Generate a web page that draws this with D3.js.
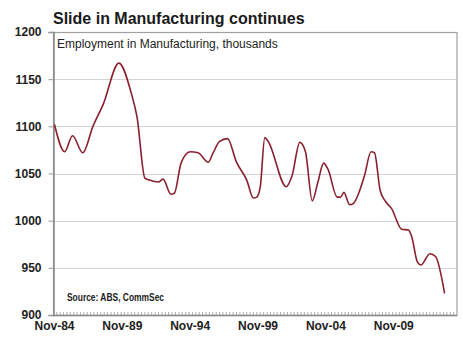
<!DOCTYPE html>
<html><head><meta charset="utf-8">
<script src="https://cdn.jsdelivr.net/npm/d3@7/dist/d3.min.js"></script>
<style>body{margin:0;background:#fff}svg{display:block}text{font-family:"Liberation Sans",Arial,sans-serif}</style>
</head><body>
<svg id="c" width="463" height="345"></svg>
<script>
// Data (employment in manufacturing, thousands)
const dates = ["1984-11","1985-08","1986-03","1986-12","1987-09","1988-06","1989-08","1990-07","1990-12",
"1991-07","1991-11","1992-07","1992-11","1993-06","1993-09","1994-03","1994-11","1995-06","1996-03",
"1996-07","1997-01","1997-08","1998-04","1999-01","1999-07","1999-10","2000-01","2000-05","2000-08",
"2001-12","2002-05","2002-12","2003-05","2003-11","2004-04","2004-09","2005-01","2005-09","2005-12",
"2006-03","2006-08","2006-11","2007-09","2008-03","2008-06","2008-11","2009-04","2009-09","2010-06",
"2010-12","2011-03","2011-08","2011-11","2012-07","2012-12","2013-08"];
const values = [1102,1073,1090,1072,1100,1123,1167,1135,1110,
1045,1043,1041,1044,1028,1029,1061,1073,1072,1062,
1071,1084,1087,1062,1043,1024,1025,1036,1088,1084,
1036,1047,1083,1073,1021,1041,1061,1054,1025,1025,
1030,1017,1018,1047,1073,1072,1032,1020,1013,991,
990,983,956,953,965,962,923];
const yTicks = [900,950,1000,1050,1100,1150,1200];
const xTickLabels = ["Nov-84","Nov-89","Nov-94","Nov-99","Nov-04","Nov-09"];
const title = "Slide in Manufacturing continues";
const subtitle = "Employment in Manufacturing, thousands";
const source = "Source: ABS, CommSec";

const parse = d3.timeParse("%Y-%m");
const fmtTick = d3.timeParse("%b-%y");
const data = dates.map((d,i)=>({date:parse(d), v:values[i]}));

const L=54.5, R=457, T=32, B=315;
const x = d3.scaleTime().domain([parse("1984-11"), parse("2014-07")]).range([L,R]);
const y = d3.scaleLinear().domain([900,1200]).range([B,T]);
const svg = d3.select("#c");

// frame
svg.append("rect").attr("x",53.5).attr("y",T+0.5).attr("width",R-53.5).attr("height",B-T)
  .attr("fill","none").attr("stroke","#a0a0a0").attr("stroke-width",1.2);

// gridlines
svg.append("g").selectAll("line").data(yTicks.filter(t=>t>900&&t<1200)).join("line")
  .attr("x1",54).attr("x2",R).attr("y1",d=>Math.round(y(d))+0.5).attr("y2",d=>Math.round(y(d))+0.5)
  .attr("stroke","#d4d4d4").attr("stroke-width",1.2);

// y axis
const ya = svg.append("g").attr("transform","translate(53.5,0)")
  .call(d3.axisLeft(y).tickValues(yTicks).tickSize(5).tickPadding(7).tickFormat(d3.format("d")));
ya.select(".domain").attr("stroke","#888").attr("stroke-width",1.5);
ya.selectAll(".tick line").attr("stroke","#999");
ya.selectAll("text").attr("font-size","12px").attr("font-weight","bold").attr("fill","#222")
  .attr("font-family","'Liberation Sans',Arial,sans-serif");

// x axis with quarterly minor ticks
const quarters = d3.timeMonth.every(3).range(parse("1984-11"), parse("2014-07"));
svg.append("g").selectAll("line").data(quarters).join("line")
  .attr("x1",d=>x(d)).attr("x2",d=>x(d)).attr("y1",B-3).attr("y2",B)
  .attr("stroke","#999").attr("stroke-width",0.8);
svg.append("line").attr("x1",53).attr("x2",R).attr("y1",B+0.5).attr("y2",B+0.5)
  .attr("stroke","#888").attr("stroke-width",1.5);
svg.append("g").selectAll("text").data(xTickLabels).join("text")
  .attr("x",d=>x(fmtTick(d))).attr("y",330).attr("text-anchor","middle")
  .attr("font-size","12px").attr("font-weight","bold").attr("fill","#222").text(d=>d);

// line
const line = d3.line().x(d=>x(d.date)).y(d=>y(d.v)).curve(d3.curveMonotoneX);
svg.append("path").datum(data).attr("d",line).attr("fill","none")
  .attr("stroke","#8a1f2e").attr("stroke-width",1.6);

// texts
svg.append("text").attr("x",53).attr("y",24).attr("font-size","16px").attr("font-weight","bold")
  .attr("fill","#1a1a1a").text(title);
svg.append("text").attr("x",57).attr("y",47.5).attr("font-size","12px").attr("fill","#222").text(subtitle);
svg.append("text").attr("x",67).attr("y",300.5).attr("font-size","10.5px").attr("font-weight","bold")
  .attr("textLength",97).attr("lengthAdjust","spacingAndGlyphs")
  .attr("fill","#222").text(source);
</script>
</body></html>
